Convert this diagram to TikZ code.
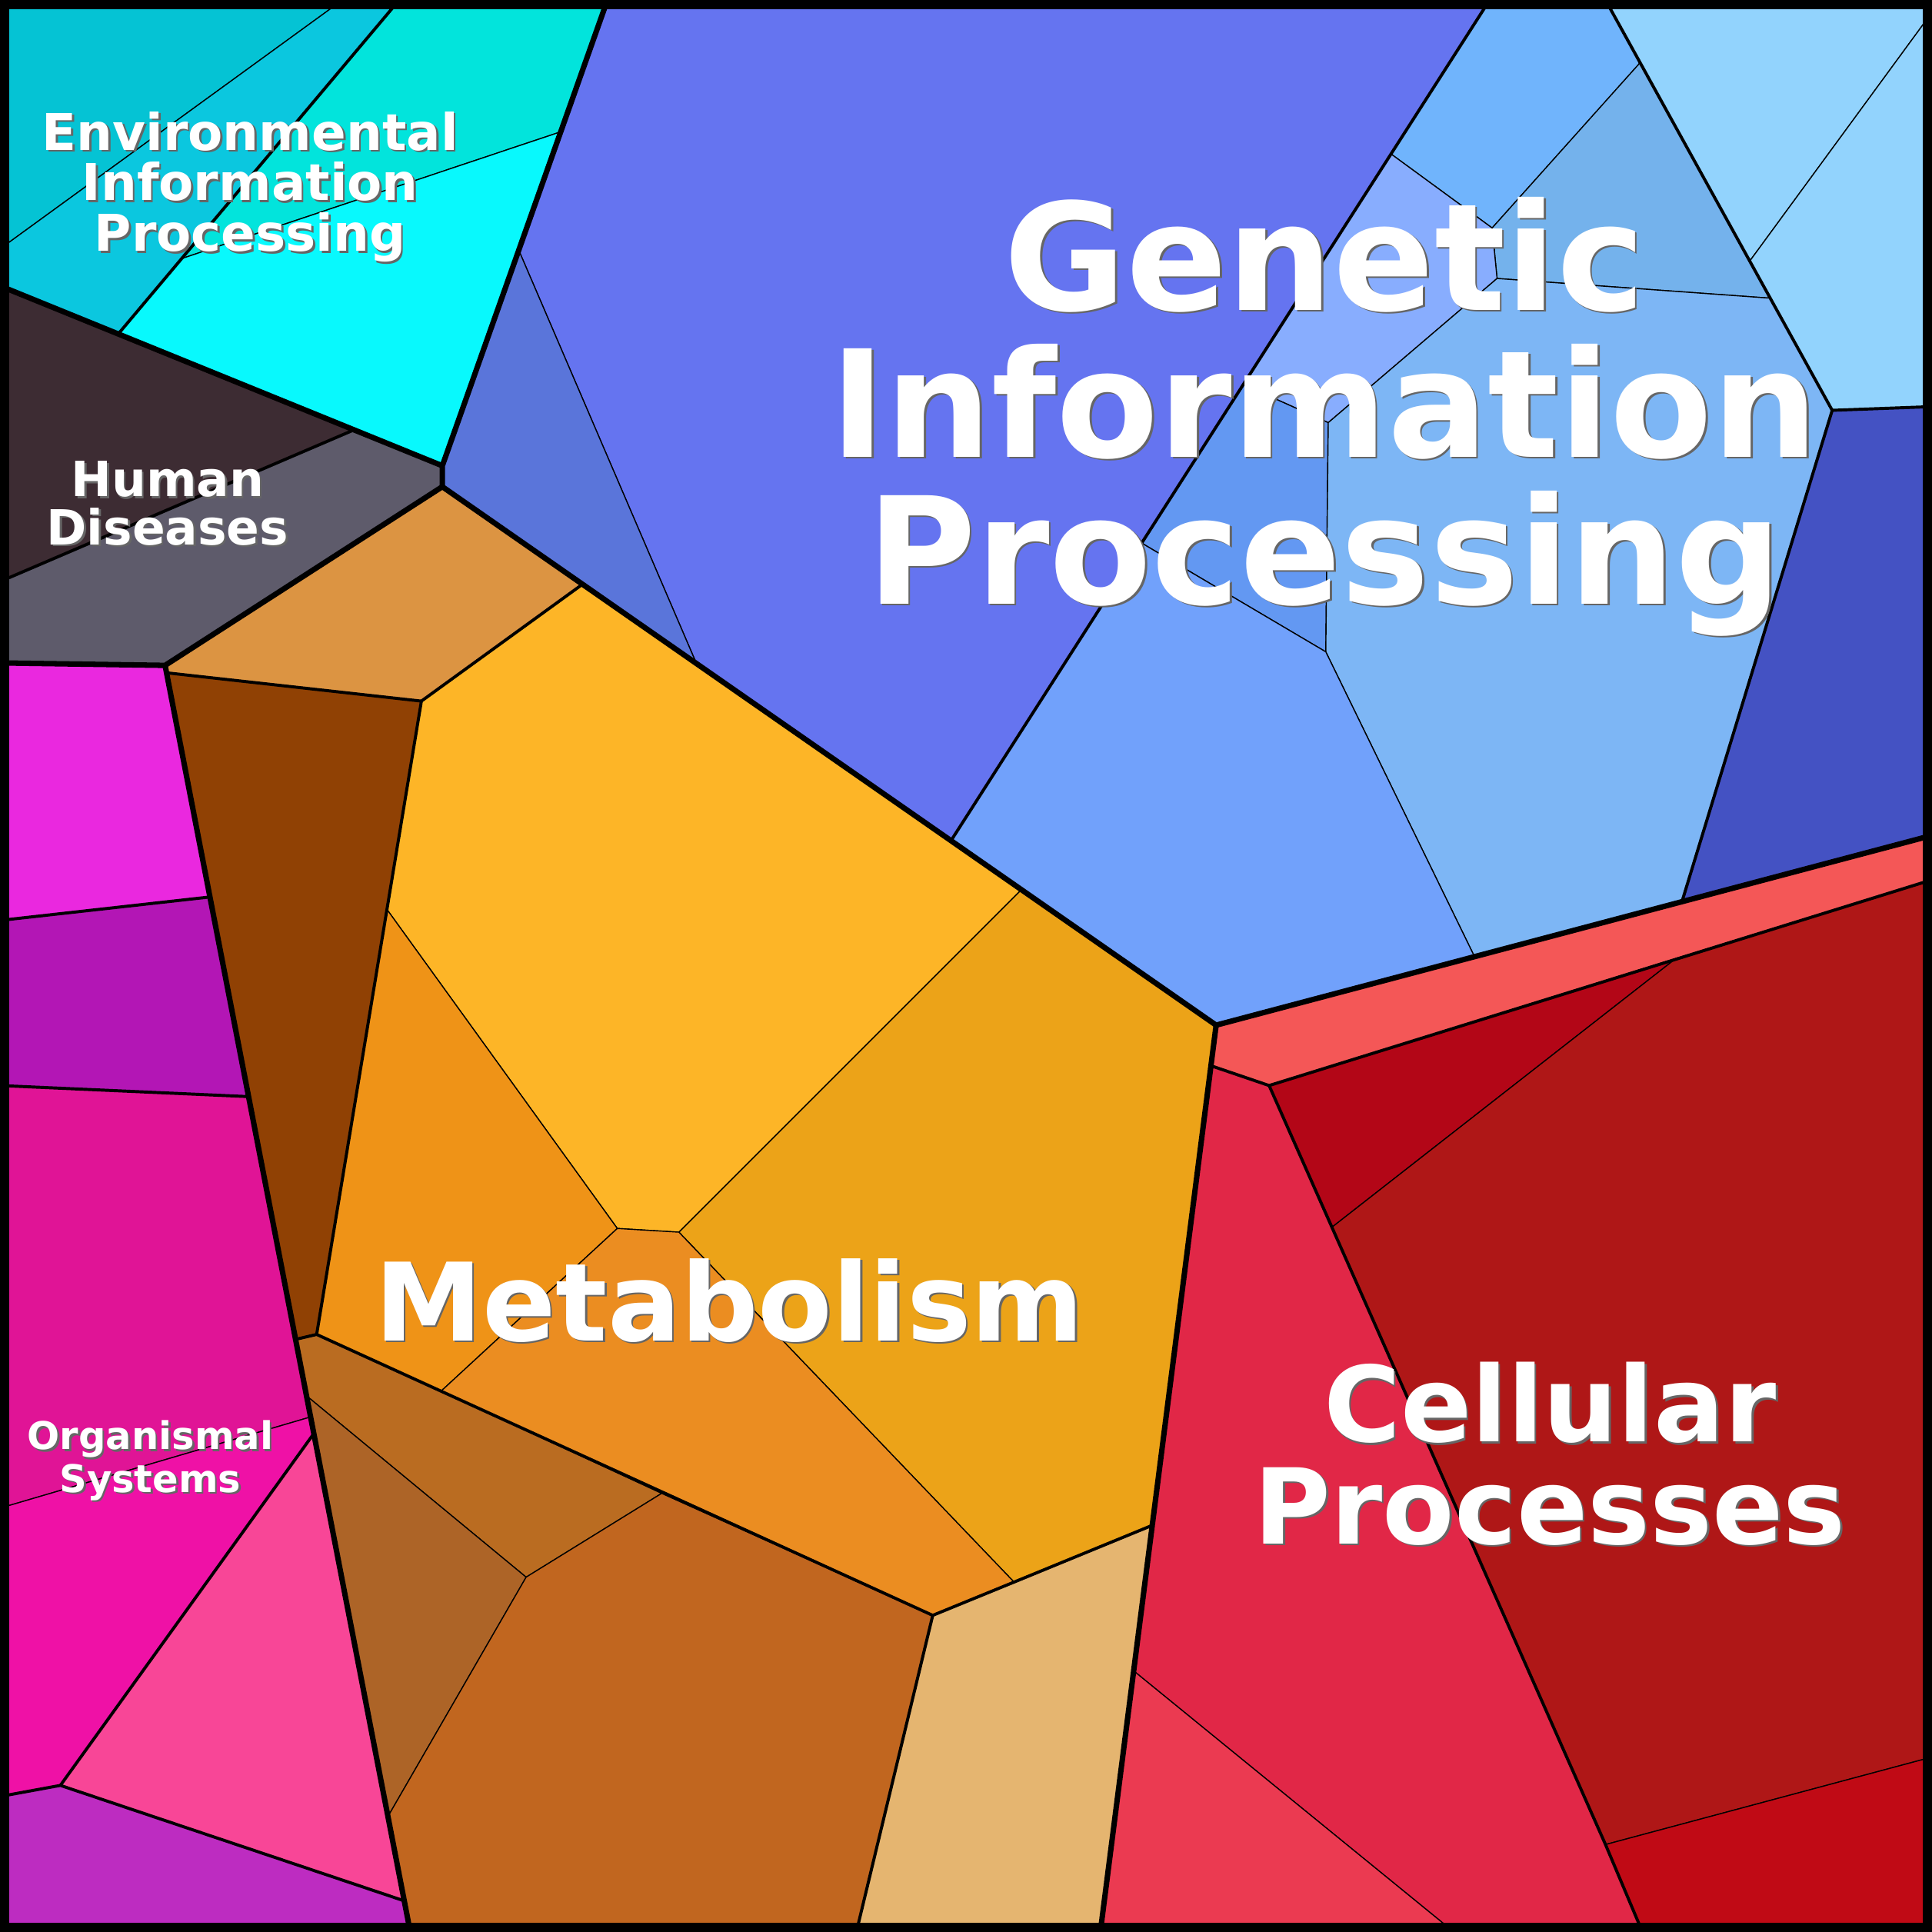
\documentclass[tikz,border=0pt]{standalone}
\usepackage{fontspec}
\setmainfont{DejaVu Sans}
% text with a small grey drop shadow
\newcommand{\shd}[1]{\leavevmode\rlap{\hspace{0.45pt}\raisebox{-0.45pt}{\color{black!60}#1}}#1}
\definecolor{envA}{HTML}{05C3D4}
\definecolor{envB}{HTML}{0BC7DF}
\definecolor{envC}{HTML}{02E4DC}
\definecolor{envD}{HTML}{08F9FD}
\definecolor{humA}{HTML}{3D2C33}
\definecolor{humB}{HTML}{5E5B6B}
\definecolor{genA}{HTML}{6574F0}
\definecolor{genB}{HTML}{5A75DA}
\definecolor{genC}{HTML}{70B4FC}
\definecolor{genD}{HTML}{92D3FD}
\definecolor{genE}{HTML}{74B2EC}
\definecolor{genF}{HTML}{88ADFE}
\definecolor{genG}{HTML}{6398F2}
\definecolor{genH}{HTML}{7DB6F5}
\definecolor{genI}{HTML}{71A1FB}
\definecolor{genJ}{HTML}{4452C3}
\definecolor{metA}{HTML}{DC9442}
\definecolor{metB}{HTML}{904104}
\definecolor{metC}{HTML}{FDB527}
\definecolor{metD}{HTML}{EF9317}
\definecolor{metE}{HTML}{ECA318}
\definecolor{metF}{HTML}{EB8D21}
\definecolor{metG}{HTML}{BA6C21}
\definecolor{metH}{HTML}{AD6427}
\definecolor{metI}{HTML}{C1661F}
\definecolor{metJ}{HTML}{E5B570}
\definecolor{orgA}{HTML}{EA28DF}
\definecolor{orgB}{HTML}{B316B5}
\definecolor{orgC}{HTML}{E01496}
\definecolor{orgD}{HTML}{EF11A6}
\definecolor{orgE}{HTML}{F84697}
\definecolor{orgF}{HTML}{BD2CC1}
\definecolor{celA}{HTML}{F45757}
\definecolor{celB}{HTML}{B30617}
\definecolor{celC}{HTML}{AF1717}
\definecolor{celD}{HTML}{E12747}
\definecolor{celE}{HTML}{EB3A51}
\definecolor{celF}{HTML}{C00A15}
\begin{document}
\begin{tikzpicture}[x=0.1mm,y=-0.1mm,
    cell/.style={draw=black,line width=0.25pt},
    sub/.style={draw=black,line width=0.7pt},
    grp/.style={draw=black,line width=1.25pt},
    lbl/.style={text=white,align=center,inner sep=0pt,anchor=base}]
  \useasboundingbox (0,0) rectangle (1568,1568);
  \path
    (0,0) coordinate (c00)
    (1568,0) coordinate (c10)
    (1568,1568) coordinate (c11)
    (0,1568) coordinate (c01)
    % environmental / human diseases
    (278,0) coordinate (a1)
    (0,202) coordinate (a2)
    (324,0) coordinate (a3)
    (96,271) coordinate (a4)
    (493,0) coordinate (a5)
    (0,232) coordinate (a6)
    (455,107) coordinate (a7)
    (147,210) coordinate (a8)
    (421,203) coordinate (a9)
    (359,378) coordinate (a10)
    (359,395) coordinate (a11)
    (287,349) coordinate (a12)
    (0,472) coordinate (a13)
    (134,540) coordinate (a14)
    (0,538) coordinate (a15)
    % genetic information processing
    (1209,0) coordinate (g1)
    (1129,125) coordinate (g2)
    (1009,312) coordinate (g3)
    (927,441) coordinate (g4)
    (772,682) coordinate (g5)
    (565,538) coordinate (g6)
    (1303,0) coordinate (g7)
    (1331,51) coordinate (g8)
    (1420,212) coordinate (g9)
    (1437,242) coordinate (g10)
    (1487,333) coordinate (g11)
    (1568,10) coordinate (g12)
    (1568,330) coordinate (g13)
    (1365,732) coordinate (g14)
    (1197,777) coordinate (g15)
    (1211,185) coordinate (g16)
    (1215,226) coordinate (g17)
    (1078,343) coordinate (g18)
    (1076,529) coordinate (g19)
    (1568,678) coordinate (g20)
    (829,722) coordinate (g21)
    (987,832) coordinate (q)
    % cellular processes
    (983,865) coordinate (k1)
    (1030,881) coordinate (k2)
    (1360,778) coordinate (k3)
    (1568,714) coordinate (k4)
    (1081,996) coordinate (k5)
    (1303,1497) coordinate (k6)
    (1333,1568) coordinate (k7)
    (1568,1426) coordinate (k8)
    (920,1356) coordinate (k9)
    (1180,1568) coordinate (k10)
    (893,1568) coordinate (k11)
    (935,1238) coordinate (k12)
    % metabolism
    (473,474) coordinate (m1)
    (342,569) coordinate (m2)
    (135,546) coordinate (m3)
    (314,738) coordinate (m4)
    (501,997) coordinate (m5)
    (551,1000) coordinate (m6)
    (257,1083) coordinate (m7)
    (240,1087) coordinate (m8)
    (358,1129) coordinate (m9)
    (537,1212) coordinate (m10)
    (757,1311) coordinate (m11)
    (823,1284) coordinate (m12)
    (427,1280) coordinate (m13)
    (249,1133) coordinate (m14)
    (315,1474) coordinate (m15)
    (695,1568) coordinate (m16)
    (333,1568) coordinate (m17)
    % organismal systems
    (0,747) coordinate (o1)
    (170,728) coordinate (o2)
    (0,881) coordinate (o3)
    (202,890) coordinate (o4)
    (0,1224) coordinate (o5)
    (252,1150) coordinate (o6)
    (255,1163) coordinate (o7)
    (49,1449) coordinate (o8)
    (0,1458) coordinate (o9)
    (329,1543) coordinate (o10);
  \begin{scope}[cell]
    \filldraw[fill=envA] (c00) -- (a1) -- (a2) -- cycle;
    \filldraw[fill=envB] (a1) -- (a3) -- (a4) -- (a6) -- (a2) -- cycle;
    \filldraw[fill=envC] (a3) -- (a5) -- (a7) -- (a8) -- cycle;
    \filldraw[fill=envD] (a8) -- (a7) -- (a10) -- (a4) -- cycle;
    \filldraw[fill=humA] (a6) -- (a12) -- (a13) -- cycle;
    \filldraw[fill=humB] (a12) -- (a10) -- (a11) -- (a14) -- (a15) -- (a13) -- cycle;
    \filldraw[fill=genA] (a5) -- (g1) -- (g5) -- (g6) -- (a9) -- cycle;
    \filldraw[fill=genB] (a9) -- (g6) -- (a11) -- (a10) -- cycle;
    \filldraw[fill=genC] (g1) -- (g7) -- (g8) -- (g16) -- (g2) -- cycle;
    \filldraw[fill=genD] (g7) -- (c10) -- (g12) -- (g9) -- (g8) -- cycle;
    \filldraw[fill=genD] (g12) -- (g13) -- (g11) -- (g9) -- cycle;
    \filldraw[fill=genE] (g8) -- (g9) -- (g10) -- (g17) -- (g16) -- cycle;
    \filldraw[fill=genF] (g2) -- (g16) -- (g17) -- (g18) -- (g3) -- cycle;
    \filldraw[fill=genG] (g3) -- (g18) -- (g19) -- (g4) -- cycle;
    \filldraw[fill=genH] (g17) -- (g10) -- (g11) -- (g14) -- (g15) -- (g19) -- (g18) -- cycle;
    \filldraw[fill=genI] (g4) -- (g19) -- (g15) -- (q) -- (g21) -- (g5) -- cycle;
    \filldraw[fill=genJ] (g11) -- (g13) -- (g20) -- (g14) -- cycle;
    \filldraw[fill=celA] (q) -- (g20) -- (k4) -- (k3) -- (k2) -- (k1) -- cycle;
    \filldraw[fill=celB] (k2) -- (k3) -- (k5) -- cycle;
    \filldraw[fill=celC] (k3) -- (k4) -- (k8) -- (k6) -- (k5) -- cycle;
    \filldraw[fill=celD] (k1) -- (k2) -- (k5) -- (k6) -- (k7) -- (k10) -- (k9) -- cycle;
    \filldraw[fill=celE] (k9) -- (k10) -- (k11) -- cycle;
    \filldraw[fill=celF] (k6) -- (k8) -- (c11) -- (k7) -- cycle;
    \filldraw[fill=metA] (a11) -- (m1) -- (m2) -- (m3) -- (a14) -- cycle;
    \filldraw[fill=metB] (m3) -- (m2) -- (m7) -- (m8) -- cycle;
    \filldraw[fill=metC] (m1) -- (g21) -- (m6) -- (m5) -- (m4) -- (m2) -- cycle;
    \filldraw[fill=metD] (m4) -- (m5) -- (m9) -- (m7) -- cycle;
    \filldraw[fill=metE] (g21) -- (q) -- (k12) -- (m12) -- (m6) -- cycle;
    \filldraw[fill=metF] (m5) -- (m6) -- (m12) -- (m11) -- (m10) -- (m9) -- cycle;
    \filldraw[fill=metG] (m8) -- (m7) -- (m9) -- (m10) -- (m13) -- (m14) -- cycle;
    \filldraw[fill=metH] (m14) -- (m13) -- (m15) -- cycle;
    \filldraw[fill=metI] (m13) -- (m10) -- (m11) -- (m16) -- (m17) -- (m15) -- cycle;
    \filldraw[fill=metJ] (m11) -- (m12) -- (k12) -- (k11) -- (m16) -- cycle;
    \filldraw[fill=orgA] (a15) -- (a14) -- (o2) -- (o1) -- cycle;
    \filldraw[fill=orgB] (o1) -- (o2) -- (o4) -- (o3) -- cycle;
    \filldraw[fill=orgC] (o3) -- (o4) -- (o6) -- (o5) -- cycle;
    \filldraw[fill=orgD] (o5) -- (o6) -- (o7) -- (o8) -- (o9) -- cycle;
    \filldraw[fill=orgE] (o8) -- (o7) -- (o10) -- cycle;
    \filldraw[fill=orgF] (o9) -- (o8) -- (o10) -- (m17) -- (c01) -- cycle;
  \end{scope}
  \begin{scope}[sub]
    \draw (a3) -- (a4);
    \draw (a12) -- (a13);
    \draw (g1) -- (g5);
    \draw (g7) -- (g11) -- (g13);
    \draw (g11) -- (g14);
    \draw (m1) -- (m2);
    \draw (m3) -- (m2) -- (m7) -- (m8);
    \draw (m7) -- (m11) -- (m16);
    \draw (m11) -- (m12) -- (k12);
    \draw (o1) -- (o2);
    \draw (o3) -- (o4);
    \draw (o7) -- (o8);
    \draw (o9) -- (o8) -- (o10);
    \draw (k1) -- (k2) -- (k4);
    \draw (k2) -- (k6) -- (k7);
  \end{scope}
  \begin{scope}[grp]
    \draw (a5) -- (a10) -- (a11);
    \draw (a6) -- (a10);
    \draw (a15) -- (a14) -- (a11) -- (q) -- (g20);
    \draw (q) -- (k11);
    \draw (a14) -- (m17);
  \end{scope}
  \draw[line width=2.1pt] (3.7,3.7) rectangle (1564.3,1564.3);
  \node[lbl,font=\bfseries\fontsize{11.7}{11.7}\selectfont] (envlbl) at (203,204)
    {\shd{Environmental}\\\shd{Information}\\\shd{Processing}};
  \node[lbl,font=\bfseries\fontsize{11.2}{11.1}\selectfont] (humlbl) at (136,442)
    {\shd{Human}\\\shd{Diseases}};
  \node[lbl,font=\bfseries\fontsize{34.4}{33.9}\selectfont] (genlbl) at (1075,490)
    {\shd{Genetic}\\\shd{Information}\\\shd{Processing}};
  \node[lbl,font=\bfseries\fontsize{25}{25}\selectfont] (metlbl) at (592,1088)
    {\shd{Metabolism}};
  \node[lbl,font=\bfseries\fontsize{24.2}{23.6}\selectfont] (cellbl) at (1258,1253)
    {\shd{Cellular}\\\shd{Processes}};
  \node[lbl,font=\bfseries\fontsize{8.8}{8.3}\selectfont] (orglbl) at (122,1211)
    {\shd{Organismal}\\\shd{Systems}};
\end{tikzpicture}
\end{document}
